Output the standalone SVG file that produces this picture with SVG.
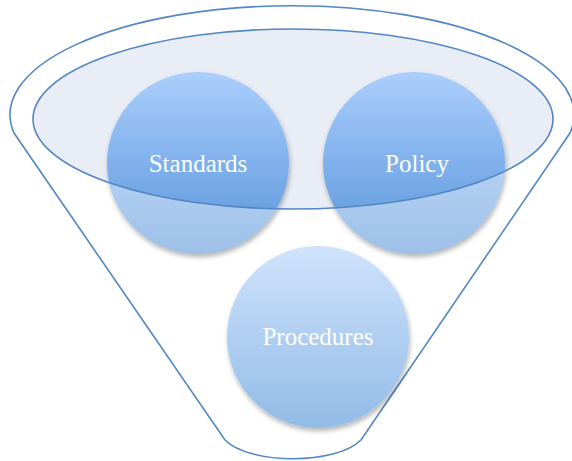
<svg xmlns="http://www.w3.org/2000/svg" width="572" height="461" viewBox="0 0 572 461">
<defs>
<linearGradient id="gTop" x1="0" y1="0" x2="0" y2="1">
<stop offset="0" stop-color="#abcefc"/>
<stop offset="0.5" stop-color="#80b1ec"/>
<stop offset="1" stop-color="#5893d6"/>
</linearGradient>
<linearGradient id="gBot" x1="0" y1="0" x2="0" y2="1">
<stop offset="0" stop-color="#cfe3fc"/>
<stop offset="1" stop-color="#92bbe6"/>
</linearGradient>
<filter id="sh" x="-20%" y="-20%" width="140%" height="140%">
<feDropShadow dx="1" dy="3" stdDeviation="2.5" flood-color="#000" flood-opacity="0.3"/>
</filter>
<clipPath id="outside">
<path clip-rule="evenodd" d="M0,0H572V461H0Z M33,119 A260,90 0 1 0 553,119 A260,90 0 1 0 33,119Z"/>
</clipPath>
<style>
.ol{fill:none;stroke:#5386c4;stroke-width:1.6}
.lbl{font-family:"Liberation Serif","Times New Roman",serif;font-size:25px;fill:#ffffff;text-anchor:middle}
.wash{fill:#ffffff;fill-opacity:0.42}
</style>
</defs>
<g id="funnel">
<path class="ol" d="M14,133 A282,109 0 1 1 570,133 L361,440 C336,465 250,465 225,440 Z"/>
</g>
<g id="ellipse-fill">
<ellipse cx="293" cy="119" rx="260" ry="90" fill="#e9edf5"/>
</g>
<g id="standards">
<circle cx="198" cy="163" r="91" fill="url(#gTop)" filter="url(#sh)"/>
<circle cx="198" cy="163" r="91" class="wash" clip-path="url(#outside)"/>
</g>
<g id="policy">
<circle cx="414" cy="163" r="91" fill="url(#gTop)" filter="url(#sh)"/>
<circle cx="414" cy="163" r="91" class="wash" clip-path="url(#outside)"/>
</g>
<g id="procedures">
<circle cx="318" cy="337" r="91" fill="url(#gBot)" filter="url(#sh)"/>
</g>
<g id="ellipse-rim">
<ellipse class="ol" cx="293" cy="119" rx="260" ry="90" stroke-width="2"/>
</g>
<g id="labels">
<text class="lbl" x="198" y="172">Standards</text>
<text class="lbl" x="417" y="172">Policy</text>
<text class="lbl" x="318" y="345">Procedures</text>
</g>
</svg>
